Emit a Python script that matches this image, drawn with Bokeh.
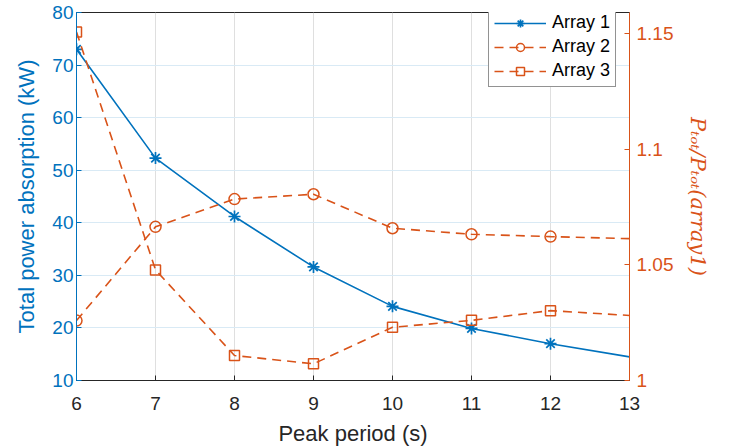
from bokeh.plotting import figure
from bokeh.models import Range1d, LinearAxis, FixedTicker, Legend, LegendItem, ColumnDataSource
from bokeh.embed import file_html
from bokeh.resources import INLINE

# ---- data ----
peak_period = [6, 7, 8, 9, 10, 11, 12, 13]
array1_power = [73.0, 52.3, 41.2, 31.6, 24.1, 19.9, 17.0, 14.5]
array2_ratio = [1.0259, 1.0664, 1.0784, 1.0805, 1.0658, 1.0632, 1.0622, 1.0613]
array3_ratio = [1.1506, 1.0478, 1.0108, 1.0072, 1.0230, 1.0260, 1.0302, 1.0281]
x_ticks = [6, 7, 8, 9, 10, 11, 12, 13]
left_ticks = [10, 20, 30, 40, 50, 60, 70, 80]
right_ticks = [1.0, 1.05, 1.1, 1.15]
series_names = ["Array 1", "Array 2", "Array 3"]

BLUE = "#0072BD"
ORANGE = "#D95319"
DARK = "#262626"
FONT = "Liberation Sans"

p = figure(width=730, height=448, output_backend="svg", toolbar_location=None,
           x_range=Range1d(6, 13), y_range=Range1d(10, 80),
           min_border_left=76, min_border_right=101, min_border_top=12, min_border_bottom=67)
p.extra_y_ranges = {"ratio": Range1d(1.0, 1.15905)}
p.background_fill_color = "white"
p.outline_line_color = DARK
p.outline_line_width = 1

# grids
p.xgrid.ticker = FixedTicker(ticks=x_ticks)
p.ygrid.ticker = FixedTicker(ticks=left_ticks)
p.xgrid.grid_line_color = "#dfdfdf"
p.ygrid.grid_line_color = "#d9eaf5"

# bottom axis
xa = p.xaxis[0]
xa.ticker = FixedTicker(ticks=x_ticks)
xa.axis_label = "Peak period (s)"
xa.axis_line_color = DARK
xa.major_tick_line_color = DARK
xa.major_label_text_color = DARK
xa.axis_label_text_color = DARK
xa.major_tick_in = 5
xa.major_tick_out = 0
xa.minor_tick_line_color = None
xa.major_label_text_font = FONT
xa.major_label_text_font_size = "19px"
xa.axis_label_text_font = FONT
xa.axis_label_text_font_size = "22px"
xa.axis_label_text_font_style = "normal"
xa.major_label_standoff = 16
xa.axis_label_standoff = 8

# left axis
ya = p.yaxis[0]
ya.ticker = FixedTicker(ticks=left_ticks)
ya.axis_label = "Total power absorption (kW)"
ya.axis_line_color = BLUE
ya.major_tick_line_color = BLUE
ya.major_label_text_color = BLUE
ya.axis_label_text_color = BLUE
ya.major_tick_in = 5
ya.major_tick_out = 0
ya.minor_tick_line_color = None
ya.major_label_text_font = FONT
ya.major_label_text_font_size = "19px"
ya.axis_label_text_font = FONT
ya.axis_label_text_font_size = "22px"
ya.axis_label_text_font_style = "normal"
ya.major_label_standoff = 3
ya.axis_label_standoff = 10

# right axis
ra = LinearAxis(y_range_name="ratio", ticker=FixedTicker(ticks=right_ticks),
                axis_label="Pₜₒₜ/Pₜₒₜ(array1)")
ra.axis_line_color = ORANGE
ra.major_tick_line_color = ORANGE
ra.major_label_text_color = ORANGE
ra.axis_label_text_color = ORANGE
ra.major_tick_in = 5
ra.major_tick_out = 0
ra.minor_tick_line_color = None
ra.major_label_text_font = FONT
ra.major_label_text_font_size = "19px"
ra.axis_label_text_font = "DejaVu Serif"
ra.axis_label_text_font_size = "21px"
ra.axis_label_text_font_style = "italic"
ra.major_label_standoff = 7
ra.axis_label_standoff = 10
p.add_layout(ra, "right")

# series
src1 = ColumnDataSource(dict(x=peak_period, y=array1_power))
src1m = ColumnDataSource(dict(x=peak_period[:-1], y=array1_power[:-1]))
src2 = ColumnDataSource(dict(x=peak_period, y=array2_ratio))
src2m = ColumnDataSource(dict(x=peak_period[:-1], y=array2_ratio[:-1]))
src3 = ColumnDataSource(dict(x=peak_period, y=array3_ratio))
src3m = ColumnDataSource(dict(x=peak_period[:-1], y=array3_ratio[:-1]))

l1 = p.line("x", "y", source=src1, line_color=BLUE, line_width=1.6)
m1 = p.scatter("x", "y", source=src1m, marker="asterisk", size=12, line_color=BLUE, line_width=1.7)

l2 = p.line("x", "y", source=src2, y_range_name="ratio", line_color=ORANGE, line_width=1.6, line_dash="9 6")
m2 = p.scatter("x", "y", source=src2m, y_range_name="ratio", marker="circle", size=11,
               line_color=ORANGE, fill_color=None, line_width=1.5)

l3 = p.line("x", "y", source=src3, y_range_name="ratio", line_color=ORANGE, line_width=1.6, line_dash="9 6")
m3 = p.scatter("x", "y", source=src3m, y_range_name="ratio", marker="square", size=10,
               line_color=ORANGE, fill_color=None, line_width=1.5)

legend = Legend(items=[LegendItem(label=series_names[0], renderers=[l1, m1]),
                       LegendItem(label=series_names[1], renderers=[l2, m2]),
                       LegendItem(label=series_names[2], renderers=[l3, m3])],
                location=(412, 293))
legend.glyph_width = 52
legend.glyph_height = 20
legend.label_height = 20
legend.spacing = 3
legend.padding = 5
legend.margin = 0
legend.label_standoff = 6
legend.label_text_font = FONT
legend.label_text_font_size = "18px"
legend.label_text_color = "black"
legend.border_line_color = DARK
legend.border_line_width = 1
legend.background_fill_color = "white"
legend.background_fill_alpha = 1.0
p.add_layout(legend, "center")

open("out.html", "w").write(file_html(p, INLINE))
